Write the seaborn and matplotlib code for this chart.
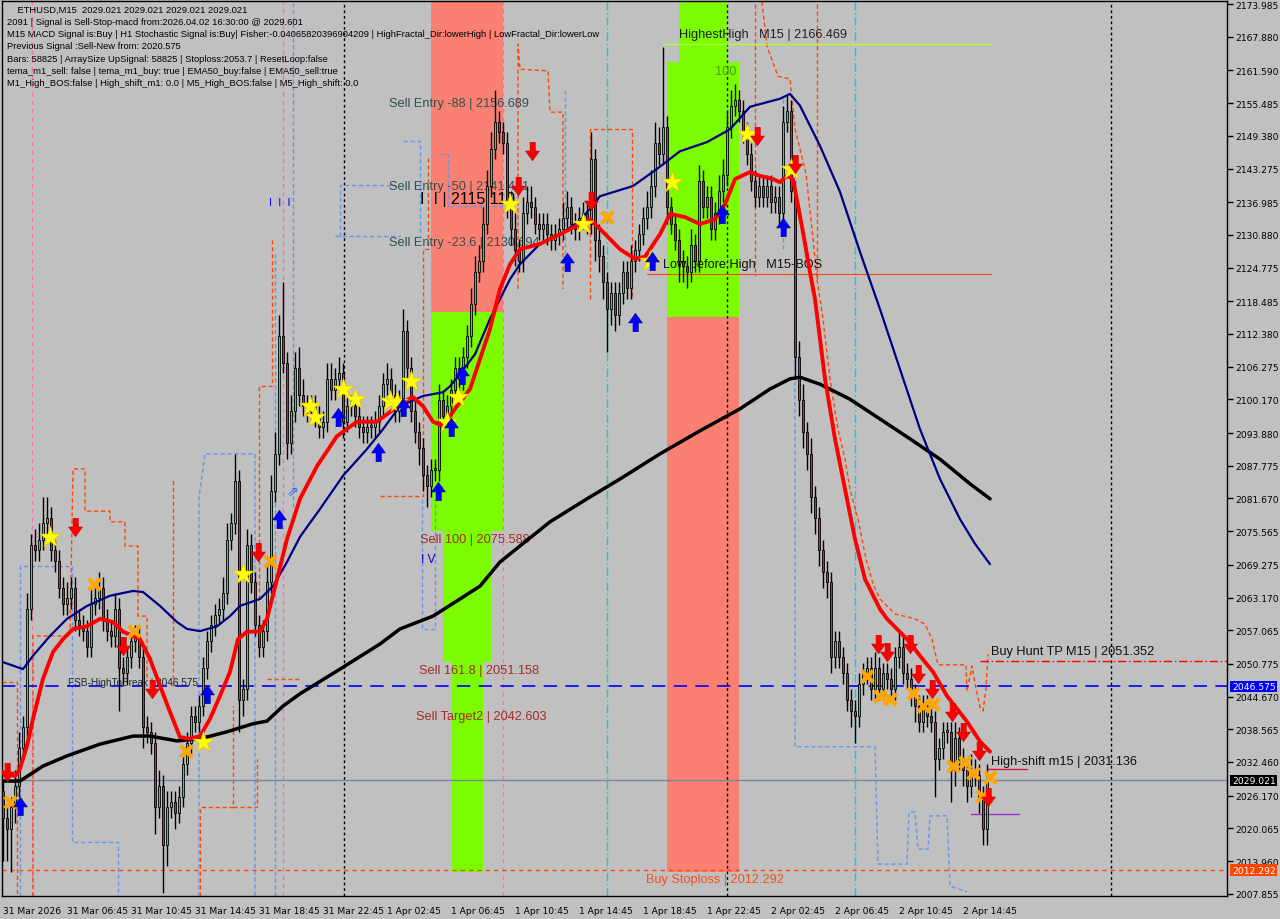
import numpy as np
import pandas as pd
import matplotlib
matplotlib.use("Agg")
import matplotlib.pyplot as plt
from matplotlib.patches import Rectangle
import seaborn as sns

# ---------------- data ----------------
bar_labels = ["31 Mar 2026", "31 Mar 06:45", "31 Mar 10:45", "31 Mar 14:45", "31 Mar 18:45",
              "31 Mar 22:45", "1 Apr 02:45", "1 Apr 06:45", "1 Apr 10:45", "1 Apr 14:45",
              "1 Apr 18:45", "1 Apr 22:45", "2 Apr 02:45", "2 Apr 06:45", "2 Apr 10:45",
              "2 Apr 14:45"]
label_bars = [0, 16, 32, 48, 64, 80, 96, 112, 128, 144, 160, 176, 192, 208, 224, 240]

price_ticks = [2173.985, 2167.880, 2161.590, 2155.485, 2149.380, 2143.275, 2136.985, 2130.880,
               2124.775, 2118.485, 2112.380, 2106.275, 2100.170, 2093.880, 2087.775, 2081.670,
               2075.565, 2069.275, 2063.170, 2057.065, 2050.775, 2044.670, 2038.565, 2032.460,
               2026.170, 2020.065, 2013.960, 2007.855]

first_open = 2027.0
closes = [
    2022, 2020, 2024, 2028, 2035, 2039, 2061, 2073, 2072, 2074,
    2077, 2078, 2072, 2070, 2065, 2062, 2063, 2065, 2059, 2058,
    2057, 2054, 2062, 2063, 2065, 2059, 2057, 2056, 2061, 2050,
    2049, 2052, 2055, 2056, 2052, 2039, 2038, 2036, 2024, 2028,
    2017, 2024, 2025, 2023, 2026, 2032, 2036, 2041, 2040, 2043,
    2050, 2055, 2058, 2060, 2061, 2064, 2074, 2077, 2085, 2044,
    2046, 2073, 2066, 2058, 2054, 2057, 2066, 2083, 2090, 2112,
    2107, 2092, 2098, 2106, 2101, 2099, 2098, 2099, 2097, 2095,
    2096, 2104, 2102, 2104, 2105, 2096, 2099, 2099, 2097, 2095,
    2094, 2095, 2095, 2096, 2099, 2103, 2104, 2101, 2098, 2100,
    2113, 2106, 2098, 2094, 2091, 2086, 2084, 2087, 2087, 2100,
    2097, 2099, 2102, 2106, 2104, 2108, 2112, 2118, 2124, 2126,
    2133, 2140, 2147, 2152, 2150, 2148, 2137, 2132, 2128, 2126,
    2135, 2137, 2136, 2133, 2132, 2133, 2131, 2130, 2131, 2132,
    2134, 2136, 2133, 2132, 2134, 2135, 2133, 2145, 2130, 2127,
    2122, 2117, 2120, 2116, 2120, 2124, 2121, 2126, 2128, 2131,
    2134, 2136, 2140, 2148, 2146, 2151, 2136, 2133, 2130, 2126,
    2125, 2124, 2129, 2126, 2141, 2136, 2138, 2132, 2135, 2139,
    2142, 2151, 2155, 2156, 2154, 2150, 2146, 2141, 2138, 2140,
    2138, 2140, 2137, 2138, 2135, 2152, 2154, 2139, 2108, 2100,
    2094, 2090, 2082, 2078, 2072, 2068, 2066, 2052, 2055, 2052,
    2049, 2044, 2042, 2041, 2047, 2049, 2050, 2046, 2050, 2046,
    2049, 2048, 2046, 2052, 2054, 2049, 2048, 2045, 2043, 2040,
    2043, 2041, 2040, 2033, 2035, 2038, 2038, 2031, 2037, 2033,
    2031, 2028, 2031, 2030, 2026, 2020, 2029.021]
wick_up = [
    2, 2, 2, 3, 3, 2, 3, 2, 3, 3,  5, 4, 2, 2, 2, 2, 3, 2, 2, 2,
    2, 2, 3, 2, 3, 2, 2, 2, 3, 2,  2, 2, 2, 2, 2, 2, 2, 2, 2, 3,
    2, 3, 2, 2, 2, 2, 2, 2, 2, 2,  2, 2, 2, 2, 2, 3, 3, 2, 5, 2,
    2, 3, 2, 2, 2, 2, 3, 3, 4, 4,  10, 2, 3, 3, 4, 3, 2, 2, 2, 2,
    2, 3, 3, 2, 3, 2, 2, 2, 2, 2,  2, 2, 2, 2, 2, 2, 3, 2, 2, 2,
    4, 2, 2, 2, 2, 2, 2, 2, 2, 3,  2, 2, 2, 2, 2, 2, 2, 3, 3, 3,
    3, 3, 3, 6, 2, 2, 2, 2, 3, 2,  3, 3, 3, 2, 2, 2, 2, 2, 2, 2,
    3, 3, 2, 2, 2, 2, 2, 5, 2, 3,  2, 2, 2, 2, 2, 2, 2, 3, 2, 2,
    2, 3, 3, 4, 3, 15, 2, 2, 2, 2,  2, 2, 3, 2, 3, 2, 2, 2, 2, 3,
    3, 3, 3, 3, 2, 2, 2, 2, 2, 2,  2, 2, 2, 2, 2, 3, 3, 2, 2, 3,
    3, 2, 3, 2, 2, 2, 2, 2, 2, 2,  2, 2, 2, 2, 2, 2, 2, 2, 3, 2,
    2, 2, 2, 2, 3, 2, 2, 2, 2, 2,  2, 2, 2, 2, 2, 2, 2, 2, 3, 2,
    2, 2, 3, 2, 2, 2, 3]
wick_dn = [
    8, 6, 8, 3, 2, 2, 2, 2, 2, 2,  2, 2, 2, 2, 2, 2, 2, 2, 2, 2,
    2, 2, 2, 2, 2, 2, 2, 2, 2, 8,  2, 2, 2, 2, 2, 4, 2, 2, 5, 2,
    9, 4, 2, 3, 2, 2, 2, 2, 2, 2,  2, 2, 2, 2, 2, 2, 2, 2, 2, 6,
    3, 2, 2, 2, 2, 2, 2, 2, 2, 2,  2, 3, 2, 2, 2, 2, 2, 2, 2, 2,
    2, 2, 2, 2, 2, 3, 2, 2, 2, 2,  2, 2, 2, 2, 2, 2, 2, 2, 2, 2,
    2, 2, 2, 2, 3, 3, 4, 2, 2, 2,  2, 2, 2, 2, 2, 2, 2, 2, 2, 2,
    2, 2, 2, 2, 2, 2, 3, 3, 3, 2,  2, 2, 2, 2, 2, 2, 2, 2, 2, 2,
    2, 2, 2, 2, 2, 2, 2, 2, 4, 3,  3, 8, 3, 3, 2, 2, 2, 2, 2, 2,
    2, 2, 2, 2, 2, 2, 3, 2, 2, 4,  3, 3, 2, 2, 2, 2, 2, 2, 2, 2,
    2, 2, 2, 2, 2, 2, 2, 2, 2, 2,  2, 2, 2, 2, 2, 2, 2, 2, 4, 3,
    3, 3, 3, 3, 3, 3, 3, 3, 2, 2,  2, 2, 3, 5, 2, 2, 2, 2, 2, 2,
    2, 2, 2, 2, 2, 2, 2, 2, 3, 2,  2, 2, 2, 7, 2, 2, 2, 6, 3, 2,
    3, 3, 2, 2, 3, 3, 3]

# moving averages, vertices (bar index, price)
ema_fast_bar = [0, 3, 4.25, 6, 7.5, 10, 12.5, 15, 17.5, 21, 24.25, 27.5, 30, 34.25, 36.75, 39.25,
                41.75, 44.25, 46.75, 49.25, 51.75, 54.25, 56.75, 58.75, 61, 64.25, 66, 68.5, 71,
                74.25, 78.5, 83.5, 88.5, 93.5, 96.75, 100, 102.5, 105, 107.5, 110, 113, 116.75,
                119.25, 121.75, 124.25, 126.75, 129.25, 134.25, 139.25, 144.25, 146.75, 149.25,
                154.25, 158, 160.5, 164.25, 166.75, 170.5, 174.25, 178, 180.5, 183, 186.75,
                189.25, 192.5, 194.25, 196, 197.5, 200, 201.75, 203, 205.5, 208, 210.5, 213,
                215.5, 219.25, 221, 226, 229.25, 232.5, 236, 241, 244.25, 246.75]
ema_fast_px = [2030.6, 2029.8, 2031.2, 2035.5, 2040.5, 2048.0, 2053.0, 2055.4, 2057.3, 2057.8,
               2059.2, 2058.6, 2056.8, 2055.4, 2051.7, 2046.7, 2041.8, 2037.1, 2036.8, 2037.3,
               2040.5, 2044.8, 2049.3, 2055.4, 2056.8, 2056.8, 2059.2, 2066.6, 2074.1, 2081.6,
               2087.7, 2093.3, 2096.0, 2096.0, 2097.8, 2099.7, 2100.6, 2098.9, 2096.0, 2095.2,
               2098.4, 2102.1, 2107.7, 2113.3, 2120.8, 2125.4, 2128.2, 2129.2, 2131.0, 2132.9,
               2133.8, 2132.0, 2128.2, 2126.4, 2126.8, 2131.0, 2134.8, 2134.2, 2132.9, 2133.8,
               2136.6, 2141.3, 2142.6, 2141.9, 2141.3, 2140.7, 2141.9, 2141.3, 2131.4, 2123.9,
               2118.9, 2104.0, 2092.8, 2083.4, 2074.1, 2066.6, 2061.0, 2059.2, 2055.4, 2052.3,
               2049.3, 2044.8, 2040.0, 2036.3, 2034.4]
ema_mid_bar = [0, 5, 7.5, 11.75, 16, 21, 26.75, 32.5, 35, 39.25, 43.5, 46, 49.25, 53.5, 56.75,
               59.25, 64.25, 67.5, 71, 74.25, 79.25, 85, 91, 95, 99.25, 105, 110, 111.75, 114.25,
               118, 121.75, 124.25, 126.75, 129.25, 134.25, 139.25, 144.25, 149.25, 157.5, 163.5,
               169.25, 176, 181.75, 186.75, 194.25, 196.75, 199.25, 204.25, 209.25, 214.25,
               219.25, 224.25, 229.25, 234.25, 239.25, 243, 246.75]
ema_mid_px = [2051.1, 2049.8, 2052.3, 2056.0, 2059.2, 2061.6, 2063.5, 2064.4, 2064.2, 2061.6,
              2058.6, 2057.3, 2056.9, 2057.8, 2059.7, 2061.6, 2062.9, 2065.3, 2069.8, 2074.5,
              2079.7, 2085.9, 2090.9, 2094.6, 2098.9, 2100.8, 2101.5, 2102.6, 2104.9, 2108.6,
              2115.2, 2118.9, 2122.6, 2125.4, 2129.2, 2131.0, 2133.5, 2138.1, 2140.0, 2143.2,
              2146.5, 2148.2, 2150.6, 2154.8, 2156.3, 2157.2, 2155.0, 2147.5, 2138.9, 2127.7,
              2117.0, 2105.8, 2094.6, 2085.3, 2077.8, 2073.2, 2069.4]
ema_slow_bar = [0, 4.25, 10, 16, 24.25, 32.5, 36.75, 43.5, 49.25, 56, 62.5, 66, 70, 74.25, 84.25,
                94.25, 99.25, 107.5, 114.25, 119.25, 124.25, 129.25, 136.75, 146, 154.25, 164.25,
                174.25, 184.25, 191.75, 196.75, 199.25, 204.25, 211.75, 219.25, 226.75, 234.25,
                241.75, 246.75]
ema_slow_px = [2028.9, 2028.9, 2031.7, 2033.6, 2035.8, 2037.3, 2037.3, 2036.4, 2036.8, 2038.1,
               2039.6, 2040.1, 2042.9, 2045.2, 2049.8, 2054.5, 2057.3, 2059.7, 2062.9, 2065.3,
               2069.8, 2072.8, 2077.3, 2081.6, 2085.3, 2090.0, 2094.3, 2098.4, 2102.1, 2104.0,
               2104.3, 2103.0, 2100.2, 2096.5, 2092.8, 2089.0, 2084.4, 2081.6]

# step channel pieces, each a list of (bar index, price) vertices
upper_band = [
    [(-0.3, 2047.4), (3.5, 2047.4), (3.5, 2007.4)],
    [(7.5, 2007.4), (7.5, 2056.0), (16.75, 2056.0), (17.5, 2087.2), (20.5, 2087.2), (20.5, 2079.3),
     (26.75, 2079.3), (26.75, 2077.3), (30.5, 2077.3), (30.5, 2072.8), (33.75, 2072.8),
     (33.75, 2059.7), (36, 2059.7), (36, 2048.0)],
    [(42.5, 2046.6), (42.5, 2085.3)],
    [(49.25, 2007.4), (49.25, 2024.1), (57.5, 2024.1), (57.5, 2042.9)],
    [(57.5, 2024.1), (63.5, 2024.1), (63.5, 2033.0)],
    [(64, 2062.9), (64, 2102.7), (67.25, 2102.7), (67.25, 2130.1)],
    [(66, 2048.0), (74.25, 2048.0)],
    [(94.25, 2082.1), (105, 2082.1), (105, 2128.2), (106.25, 2128.2), (106.25, 2145.6)],
    [(128.75, 2120.8), (128.75, 2166.5), (129.25, 2161.8), (136.25, 2161.5), (136.75, 2153.8),
     (140, 2153.8), (140, 2120.8)],
    [(146.75, 2118.9), (146.75, 2150.6), (157.25, 2150.6), (157.25, 2118.9)],
    [(188, 2174.0), (188, 2123.2)],
    [(203.5, 2174.0), (203.5, 2122.6)],
    [(189.75, 2174.4), (191, 2166.1), (193.75, 2160.5), (196.75, 2160.0), (198, 2150.7),
     (199.25, 2146.9), (200.75, 2142.3), (202.25, 2132.0), (203.5, 2122.6), (205, 2115.2),
     (206.75, 2104.0), (208.75, 2094.6), (210.5, 2089.0), (211.75, 2083.4), (213.75, 2077.8),
     (215.75, 2070.4), (217.5, 2065.7), (219.25, 2062.9), (223, 2060.1), (228, 2059.2),
     (230.5, 2058.2), (232.25, 2055.4), (233.75, 2050.6), (240.75, 2050.6), (241, 2045.7),
     (242.25, 2050.4), (243.25, 2046.1), (244.25, 2042.7), (245, 2042.0), (245.75, 2046.1),
     (246.25, 2052.6)],
]
lower_band = [
    [(4.25, 2007.4), (4.25, 2069.1), (17.25, 2069.1), (17.25, 2017.5), (28.75, 2017.5),
     (28.75, 2007.4)],
    [(49, 2007.4), (49, 2081.9), (50.5, 2090.0), (63, 2090.0), (63, 2007.4)],
    [(68, 2007.4), (68, 2127.3)],
    [(72.5, 2080.0), (72.5, 2174.5)],
    [(83, 2130.7), (99.25, 2130.7)],
    [(84.25, 2130.7), (84.25, 2140.2), (98, 2140.2)],
    [(100, 2148.4), (104.25, 2148.4), (104.25, 2130.7)],
    [(104.75, 2081.6), (104.75, 2057.3), (108, 2057.3), (108, 2081.6)],
    [(109.25, 2146.0), (111.25, 2146.0), (111.25, 2136.3), (125, 2136.3)],
    [(140.5, 2158.0), (140.5, 2124.5)],
    [(195, 2156.3), (195, 2128.2)],
    [(198, 2128.2), (198, 2035.3), (218, 2035.3), (218.75, 2013.4), (226, 2013.4), (226.5, 2023.1),
     (228, 2023.1), (228.75, 2016.2), (231.25, 2016.2), (231.75, 2022.4), (236, 2022.4),
     (236.75, 2009.3), (241, 2008.2)],
]

# zones: (bar from, bar to, price low, price high, colour)
zone_from = [107, 107, 110, 112.25, 166, 169, 166]
zone_to = [125, 125, 122, 120, 184, 181, 184]
zone_low = [2116.5, 2075.6, 2051.1, 2011.9, 2115.6, 2163.2, 2011.9]
zone_high = [2174.6, 2116.5, 2075.6, 2051.1, 2163.2, 2174.6, 2115.6]
zone_color = ["#FA8072", "#7CFC00", "#7CFC00", "#7CFC00", "#7CFC00", "#7CFC00", "#FA8072"]

# signal markers (bar index, price)
star_bar = [11.75, 60, 50, 76.75, 78, 85, 88, 96.75, 98.5, 102, 111, 113.75, 126.75, 145,
            161.75, 167.25, 186, 197]
star_px = [2074.5, 2067.6, 2036.2, 2098.9, 2096.9, 2102.1, 2100.2, 2099.9, 2099.7, 2103.6,
           2096.0, 2100.6, 2136.6, 2132.9, 2126.0, 2140.8, 2149.7, 2143.2]
cross_bar = [1.75, 22.75, 32.75, 45.75, 66.75, 151, 216, 219.25, 221.75, 227.5, 230, 232.5,
             237.5, 240.5, 242.5, 244.75, 246.75]
cross_px = [2025.0, 2065.7, 2056.9, 2034.5, 2070.0, 2134.2, 2048.5, 2044.8, 2044.2, 2045.4,
            2042.9, 2043.3, 2031.7, 2032.5, 2030.4, 2026.1, 2029.7]
sell_arrow_bar = [1, 18, 30, 37.25, 63.75, 128.75, 132.25, 147, 188.5, 198, 218.75, 221, 226.75,
                  228.75, 232.25, 237.25, 240, 244, 246.25]
sell_arrow_px = [2030.6, 2076.3, 2054.1, 2046.1, 2071.7, 2140.0, 2146.6, 2137.2, 2149.3, 2144.1,
                 2054.5, 2053.0, 2054.5, 2048.9, 2046.1, 2041.8, 2038.0, 2034.5, 2025.9]
buy_arrow_bar = [4.25, 51, 69, 83.75, 93.75, 100, 108.75, 112, 114.75, 141, 158, 162.25, 179.75,
                 195]
buy_arrow_px = [2024.2, 2045.2, 2077.8, 2096.9, 2090.3, 2098.7, 2083.1, 2095.0, 2104.7, 2125.8,
                2114.6, 2126.0, 2134.8, 2132.4]

info_lines = [
    "    ETHUSD,M15  2029.021 2029.021 2029.021 2029.021",
    "2091 | Signal is Sell-Stop-macd from:2026.04.02 16:30:00 @ 2029.601",
    "M15 MACD Signal is:Buy | H1 Stochastic Signal is:Buy| Fisher:-0.04065820396904209 | "
    "HighFractal_Dir:lowerHigh | LowFractal_Dir:lowerLow",
    "Previous Signal :Sell-New from: 2020.575",
    "Bars: 58825 | ArraySize UpSignal: 58825 | Stoploss:2053.7 | ResetLoop:false",
    "tema_m1_sell: false | tema_m1_buy: true | EMA50_buy:false | EMA50_sell:true",
    "M1_High_BOS:false | High_shift_m1: 0.0 | M5_High_BOS:false | M5_High_shift: 0.0",
]

# ---------------- drawing ----------------
sns.set_theme(style="white")
plt.rcParams["font.family"] = ["DejaVu Sans"]
BG = "#C0C0C0"

fig = plt.figure(figsize=(12.8, 9.2), dpi=100, facecolor=BG)
ax = fig.add_axes([2 / 1280, 1 - 897 / 920, 1225 / 1280, 895 / 920])
ax.set_facecolor(BG)
ax.set_xlim(-0.25, 306)
ax.set_ylim(2007.44, 2174.55)

for x0, x1, lo, hi, c in zip(zone_from, zone_to, zone_low, zone_high, zone_color):
    ax.add_patch(Rectangle((x0, lo), x1 - x0, hi - lo, color=c, lw=0, zorder=0.5))

# vertical marker lines
for b in [85.25, 181, 277]:
    ax.axvline(b, color="black", lw=1, ls=(0, (2, 2)), zorder=1)
for b in [7.25, 70, 125]:
    ax.axvline(b, color="#FF69B4", lw=1, ls=(0, (3, 3)), zorder=1)
for b in [151, 213]:
    ax.axvline(b, color="#00D0E0", lw=1, ls=(0, (6, 2, 1, 2)), zorder=1)

# channel step lines
for pieces, col in [(upper_band, "#FF4500"), (lower_band, "#6495ED")]:
    for piece in pieces:
        xs, ys = zip(*piece)
        ax.plot(xs, ys, color=col, lw=1, ls=(0, (3, 2)), zorder=1.5)

# horizontal levels
ax.axhline(2046.575, color="#0000FF", lw=1.2, ls=(0, (8, 5)), zorder=2)
ax.axhline(2029.021, color="#778899", lw=1, zorder=2)
ax.axhline(2012.292, color="#FF4500", lw=1, ls=(0, (3, 3)), zorder=2)
ax.plot([244.25, 306], [2051.352, 2051.352], color="#FF0000", lw=1, ls=(0, (6, 2, 1, 2)), zorder=2)
ax.plot([165, 247], [2166.5, 2166.5], color="#ADFF2F", lw=1, zorder=2)
ax.plot([161, 247], [2123.6, 2123.6], color="#FF4500", lw=0.8, zorder=2)
ax.plot([246, 256], [2031.136, 2031.136], color="#DC143C", lw=1, zorder=2)
ax.plot([242, 254], [2022.75, 2022.75], color="#9932CC", lw=1, zorder=2)

# object labels (drawn behind the candles, as on the terminal)
lab = dict(family="Liberation Sans", fontsize=9.2, va="center", ha="left", zorder=2.5)
ax.text(96.5, 2155.5, "Sell Entry -88 | 2156.689", color="#2F4F4F", **lab)
ax.text(96.5, 2140.0, "Sell Entry -50 | 2141.431", color="#2F4F4F", **lab)
ax.text(96.5, 2129.6, "Sell Entry -23.6 | 2130.694", color="#2F4F4F", **lab)
ax.text(104.25, 2137.6, "I  I | 2115.119", color="black", family="Liberation Sans",
        fontsize=11.5, va="center", ha="left", zorder=2.5)
ax.text(104.25, 2074.1, "Sell 100 | 2075.588", color="#A52A2A", **lab)
ax.text(104.0, 2049.6, "Sell 161.8 | 2051.158", color="#A52A2A", **lab)
ax.text(103.25, 2041.1, "Sell Target2 | 2042.603", color="#A52A2A", **lab)
ax.text(160.75, 2010.6, "Buy Stoploss | 2012.292", color="#F0501E", **lab)
ax.text(169, 2168.4, "HighestHigh   M15 | 2166.469", color="#202020", **lab)
ax.text(178, 2161.5, "100", color="#4CA010", **lab)
ax.text(165, 2125.4, "Low before High   M15-BOS", color="#101010", **lab)
ax.text(247, 2053.2, "Buy Hunt TP M15 | 2051.352", color="#101010", **lab)
ax.text(247, 2032.6, "High-shift m15 | 2031.136", color="#101010", **lab)
ax.text(16.25, 2047.4, "FSB-HighToBreak | 2046.575", color="#202830", family="Liberation Sans",
        fontsize=7.2, va="center", ha="left", zorder=2.5)
ax.text(66.5, 2137.0, "I  I  I", color="#0000FF", family="Liberation Sans", fontsize=8,
        va="center", ha="left", zorder=2.5)
ax.text(104.5, 2070.3, "I V", color="#0000FF", family="Liberation Sans", fontsize=8.5,
        va="center", ha="left", zorder=2.5)

# candles
idx = np.arange(len(closes))
c = np.array(closes, dtype=float)
o = np.concatenate([[first_open], c[:-1]])
hi = np.maximum(o, c) + np.array(wick_up)
lo = np.minimum(o, c) - np.array(wick_dn)
bull = c >= o
ax.vlines(idx, lo, hi, color="black", lw=1, zorder=3)
body = np.maximum(np.abs(c - o), 0.35)
ax.bar(idx, body, bottom=np.minimum(o, c), width=0.62,
       color=np.where(bull, "#2BD27F", "#B5304F"), edgecolor="black", lw=0.6, zorder=3.2)

# moving averages
emas = pd.concat([
    pd.DataFrame({"bar": ema_slow_bar, "price": ema_slow_px, "ma": "slow"}),
    pd.DataFrame({"bar": ema_mid_bar, "price": ema_mid_px, "ma": "mid"}),
    pd.DataFrame({"bar": ema_fast_bar, "price": ema_fast_px, "ma": "fast"}),
])
for name, col, w in [("slow", "black", 2.5), ("mid", "#000080", 1.6), ("fast", "#FF0000", 2.8)]:
    sub = emas[emas["ma"] == name]
    sns.lineplot(data=sub, x="bar", y="price", color=col, lw=w, sort=False,
                 estimator=None, ax=ax, zorder=4)

# markers
down_arrow = [(-0.3, 1), (0.3, 1), (0.3, 0.05), (0.75, 0.05), (0, -1), (-0.75, 0.05), (-0.3, 0.05)]
up_arrow = [(x, -y) for x, y in down_arrow]
ax.scatter(star_bar, star_px, marker="*", s=260, color="#FFFF00", edgecolor="#E0C000",
           lw=0.4, zorder=5)
ax.scatter(cross_bar, cross_px, marker="x", s=70, color="#FFA500", lw=3, zorder=5)
ax.scatter(sell_arrow_bar, sell_arrow_px, marker=down_arrow, s=175, color="#FF0000",
           edgecolor="#B00000", lw=0.4, zorder=5)
ax.scatter(buy_arrow_bar, buy_arrow_px, marker=up_arrow, s=175, color="#0000FF",
           edgecolor="#000080", lw=0.4, zorder=5)
ax.text(72.5, 2083.1, "\u21d7", color="#3060FF", fontsize=10, ha="center", va="center", zorder=5)

# axes
ax.yaxis.tick_right()
ax.set_yticks(price_ticks)
ax.set_yticklabels([f"{p:.3f}" for p in price_ticks])
ax.set_xticks(label_bars)
ax.set_xticklabels(bar_labels, ha="left")
ax.tick_params(axis="both", which="both", length=4, width=1, color="black", labelsize=6.6,
               labelcolor="black", direction="out", pad=2)
ax.tick_params(axis="x", pad=3)
ax.set_xlabel("")
ax.set_ylabel("")
for s in ax.spines.values():
    s.set_color("black")
    s.set_linewidth(1)

# current price boxes on the price scale
for val, bg in [(2046.575, "#0000FF"), (2029.021, "#000000"), (2012.292, "#FF4500")]:
    ax.annotate(f"{val:.3f}", xy=(1.0, val), xycoords=("axes fraction", "data"),
                xytext=(3.5, 0), textcoords="offset points", ha="left", va="center",
                fontsize=6.6, color="white",
                bbox=dict(boxstyle="square,pad=0.15", fc=bg, ec="none"))

for k, line in enumerate(info_lines):
    fig.text(7 / 1280, 1 - (10 + 12.3 * k) / 920, line, fontsize=6.75, family="Liberation Sans",
             color="black", va="center", ha="left")

fig.savefig("out.png", dpi=100, facecolor=BG)
